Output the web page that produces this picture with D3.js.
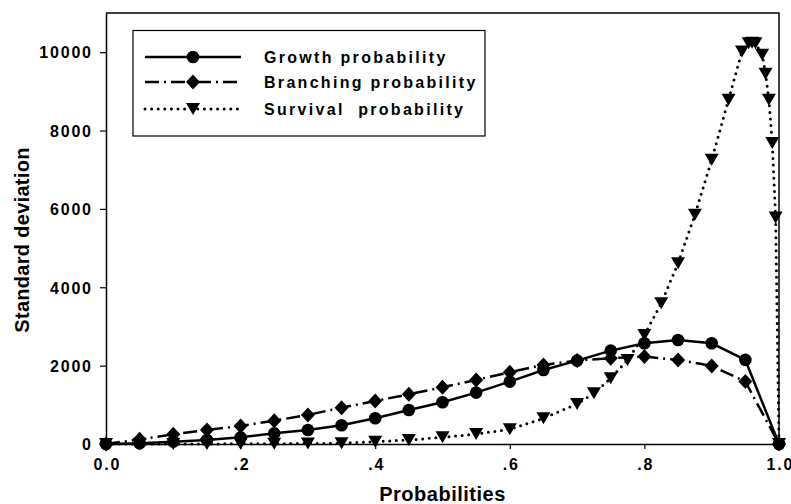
<!DOCTYPE html>
<html>
<head>
<meta charset="utf-8">
<script src="https://cdn.jsdelivr.net/npm/d3@7"></script>
<style>
  html, body { margin: 0; padding: 0; background: #fff; }
  svg { display: block; font-family: "Liberation Sans", Arial, sans-serif; }
</style>
</head>
<body>
<svg id="chart" width="791" height="504"></svg>
<script>
// ---- data ----
const xMain = [0, 0.05, 0.1, 0.15, 0.2, 0.25, 0.3, 0.35, 0.4, 0.45, 0.5, 0.55, 0.6, 0.65, 0.7, 0.75, 0.8, 0.85, 0.9, 0.95, 1.0];
const growth = [0, 17, 60, 102, 170, 272, 357, 477, 656, 868, 1064, 1311, 1593, 1890, 2129, 2384, 2571, 2656, 2571, 2146, 0];
const branching = [0, 119, 247, 357, 460, 596, 741, 928, 1098, 1269, 1447, 1635, 1831, 2018, 2130, 2189, 2231, 2146, 1993, 1593, 0];
const xSurvival = [0, 0.05, 0.1, 0.15, 0.2, 0.25, 0.3, 0.35, 0.4, 0.45, 0.5, 0.55, 0.6, 0.65, 0.7, 0.725, 0.75, 0.775, 0.8, 0.825, 0.85, 0.875, 0.9, 0.925, 0.945, 0.955, 0.96, 0.965, 0.975, 0.98, 0.985, 0.99, 0.995, 1.0];
const survival = [0, 0, 0, 2, 5, 8, 12, 20, 60, 102, 171, 255, 375, 656, 1022, 1294, 1678, 2146, 2784, 3590, 4615, 5849, 7254, 8787, 10020, 10230, 10240, 10230, 9936, 9450, 8787, 7680, 5780, 0];
const xTicks = [0, 0.2, 0.4, 0.6, 0.8, 1.0];
const xTickLabels = ["0.0", ".2", ".4", ".6", ".8", "1.0"];
const yTicks = [0, 2000, 4000, 6000, 8000, 10000];
const seriesNames = ["Growth probability", "Branching probability", "Survival  probability"];
const xTitle = "Probabilities";
const yTitle = "Standard deviation";

// ---- layout ----
const svg = d3.select("#chart");
const x = d3.scaleLinear().domain([0, 1]).range([106, 779]);
const y = d3.scaleLinear().domain([0, 11000]).range([444, 13]);

// frame (top and right)
svg.append("path")
  .attr("d", `M${x(0)},${y(11000)}H${x(1)}V${y(0)}`)
  .attr("fill", "none").attr("stroke", "#000").attr("stroke-width", 1.5);

// axes
const yAxis = svg.append("g").attr("transform", `translate(${x(0)},0)`)
  .call(d3.axisLeft(y).tickValues(yTicks).tickSize(6).tickSizeOuter(0).tickPadding(9).tickFormat(d3.format("d")));
const xAxis = svg.append("g").attr("transform", `translate(0,${y(0)})`)
  .call(d3.axisBottom(x).tickValues(xTicks).tickSize(5).tickSizeOuter(0).tickPadding(10).tickFormat((d, i) => xTickLabels[i]));
[xAxis, yAxis].forEach(g => {
  g.select(".domain").attr("stroke-width", 1.5);
  g.selectAll(".tick line").attr("stroke-width", 1.2);
  g.selectAll("text").attr("font-family", "Liberation Sans, Arial, sans-serif")
    .attr("font-size", 16).attr("font-weight", "bold").attr("fill", "#000")
    .style("letter-spacing", "1.8px");
});
yAxis.selectAll("text").attr("dy", "0.36em").attr("dx", "1.8");
xAxis.selectAll("text").attr("dx", "0.9");

// titles
svg.append("text").attr("x", x(0.5)).attr("y", 501).attr("text-anchor", "middle")
  .attr("font-size", 20).attr("font-weight", "bold").style("letter-spacing", "0.5px").text(xTitle);
svg.append("text").attr("transform", `translate(29,${240}) rotate(-90)`).attr("text-anchor", "middle")
  .attr("font-size", 20).attr("font-weight", "bold").style("letter-spacing", "0.3px").text(yTitle);

// markers
const markers = {
  circle: "M6.3,0A6.3,6.3 0 1,1 -6.3,0A6.3,6.3 0 1,1 6.3,0Z",
  diamond: "M0,-7.5L7,0L0,7.5L-7,0Z",
  triangle: "M-7,-6L7,-6L0,6Z"
};
const dashes = ["none", "14,5,2,5", "0,6.6"];
const series = [
  { xs: xSurvival, ys: survival, marker: "triangle", dash: dashes[2], width: 3 },
  { xs: xMain, ys: branching, marker: "diamond", dash: dashes[1], width: 2.5 },
  { xs: xMain, ys: growth, marker: "circle", dash: dashes[0], width: 2.5 }
];
const line = d3.line().x(d => x(d[0])).y(d => y(d[1]));
series.forEach(s => {
  const pts = s.xs.map((v, i) => [v, s.ys[i]]);
  svg.append("path").attr("d", line(pts)).attr("fill", "none").attr("stroke", "#000")
    .attr("stroke-width", s.width).attr("stroke-dasharray", s.dash)
    .attr("stroke-linecap", s.marker === "triangle" ? "round" : "butt");
  svg.append("g").selectAll("path").data(pts).join("path")
    .attr("transform", d => `translate(${x(d[0])},${y(d[1])})`)
    .attr("d", markers[s.marker]).attr("fill", "#000");
});

// legend
const lg = svg.append("g");
lg.append("rect").attr("x", 133).attr("y", 30.5).attr("width", 352).attr("height", 105.5)
  .attr("fill", "#fff").attr("stroke", "#000").attr("stroke-width", 1.2);
const legendRows = [
  { name: seriesNames[0], marker: "circle", dash: dashes[0], width: 2.5, yy: 57 },
  { name: seriesNames[1], marker: "diamond", dash: dashes[1], width: 2.5, yy: 82 },
  { name: seriesNames[2], marker: "triangle", dash: dashes[2], width: 3, yy: 109 }
];
legendRows.forEach(r => {
  lg.append("line").attr("x1", 145).attr("x2", 241).attr("y1", r.yy).attr("y2", r.yy)
    .attr("stroke", "#000").attr("stroke-width", r.width).attr("stroke-dasharray", r.dash)
    .attr("stroke-linecap", r.marker === "triangle" ? "round" : "butt");
  lg.append("path").attr("transform", `translate(193,${r.yy})`).attr("d", markers[r.marker]).attr("fill", "#000");
  lg.append("text").attr("x", 264).attr("y", r.yy).attr("dy", "0.36em")
    .attr("font-size", 16).attr("font-weight", "bold").style("letter-spacing", "2.3px")
    .style("white-space", "pre").text(r.name);
});
</script>
</body>
</html>
